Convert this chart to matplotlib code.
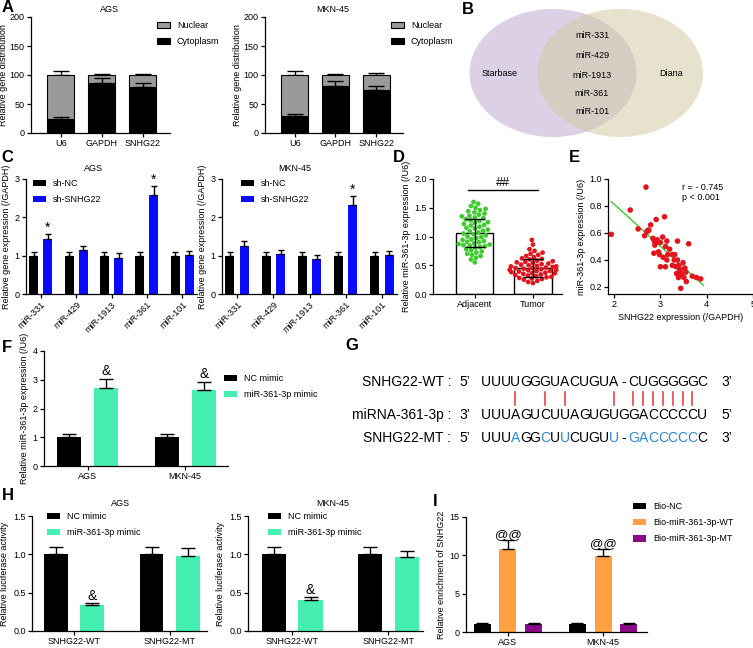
import numpy as np
import pandas as pd
import matplotlib
matplotlib.use("Agg")
import matplotlib.pyplot as plt
import seaborn as sns
from matplotlib.patches import Patch, Ellipse
from matplotlib.lines import Line2D

plt.rcParams['font.family'] = ['Liberation Sans', 'DejaVu Sans']
FS = 6.5
plt.rcParams['font.size'] = FS

# ---------------- data ----------------
a_cats = ['U6', 'GAPDH', 'SNHG22']
a_ags_cyto = [25, 87, 79]
a_ags_cyto_err = [3, 8, 8]
a_ags_total = [100, 100, 100]
a_ags_total_err = [7, 2, 2]
a_mkn_cyto = [29, 81, 74]
a_mkn_cyto_err = [3, 8, 7]
a_mkn_total = [100, 100, 100]
a_mkn_total_err = [7, 2, 3]

venn_left = 'Starbase'
venn_right = 'Diana'
venn_common = ['miR-331', 'miR-429', 'miR-1913', 'miR-361', 'miR-101']

c_cats = ['miR-331', 'miR-429', 'miR-1913', 'miR-361', 'miR-101']
c_ags_nc = [1.0, 1.0, 1.0, 1.0, 1.0]
c_ags_nc_err = [0.1, 0.1, 0.1, 0.1, 0.1]
c_ags_sh = [1.43, 1.15, 0.95, 2.58, 1.03]
c_ags_sh_err = [0.14, 0.11, 0.11, 0.25, 0.10]
c_mkn_nc = [1.0, 1.0, 1.0, 1.0, 1.0]
c_mkn_nc_err = [0.1, 0.1, 0.1, 0.1, 0.1]
c_mkn_sh = [1.26, 1.05, 0.92, 2.31, 1.02]
c_mkn_sh_err = [0.12, 0.10, 0.10, 0.24, 0.10]
c_ags_star = [0, 3]
c_mkn_star = [3]

d_groups = ['Adjacent', 'Tumor']
d_means = [1.06, 0.45]
d_sd = [0.25, 0.155]
d_adjacent = [1.60, 1.57, 1.53, 1.50, 1.48, 1.46, 1.44, 1.42, 1.40, 1.38, 1.36, 1.35,
              1.33, 1.32, 1.30, 1.28, 1.27, 1.25, 1.24, 1.22, 1.20, 1.19, 1.17, 1.15,
              1.14, 1.12, 1.10, 1.09, 1.07, 1.05, 1.04, 1.02, 1.00, 0.99, 0.97, 0.95,
              0.94, 0.92, 0.91, 0.90, 0.88, 0.87, 0.86, 0.85, 0.84, 0.83, 0.82, 0.80,
              0.78, 0.76, 0.74, 0.72, 0.70, 0.68, 0.66, 0.63, 0.60, 0.55]
d_tumor = [0.94, 0.86, 0.78, 0.75, 0.72, 0.70, 0.68, 0.66, 0.64, 0.62, 0.61, 0.60,
           0.58, 0.57, 0.56, 0.55, 0.54, 0.53, 0.52, 0.51, 0.50, 0.49, 0.48, 0.48,
           0.47, 0.46, 0.45, 0.45, 0.44, 0.43, 0.42, 0.42, 0.41, 0.40, 0.40, 0.39,
           0.38, 0.37, 0.36, 0.36, 0.35, 0.34, 0.33, 0.32, 0.31, 0.30, 0.29, 0.28,
           0.27, 0.26, 0.25, 0.23, 0.21, 0.19]

e_x = [2.69, 1.94, 2.35, 2.52, 2.71, 2.79, 2.73, 2.66, 2.91, 3.09, 2.84, 2.87,
       2.91, 2.88, 3.05, 3.14, 3.11, 3.00, 3.37, 3.61, 2.86, 2.96, 2.98, 3.06,
       3.16, 3.26, 3.31, 3.00, 3.11, 3.14, 3.30, 3.26, 3.34, 3.39, 3.37, 3.49,
       3.43, 3.53, 3.55, 3.46, 3.39, 3.51, 3.35, 3.69, 3.78, 3.87, 3.56, 3.44,
       2.75, 2.93, 3.20, 3.42]
e_y = [0.94, 0.59, 0.77, 0.63, 0.61, 0.66, 0.62, 0.58, 0.70, 0.72, 0.56, 0.54,
       0.53, 0.51, 0.57, 0.54, 0.50, 0.53, 0.54, 0.52, 0.45, 0.46, 0.44, 0.42,
       0.44, 0.44, 0.44, 0.35, 0.35, 0.40, 0.40, 0.36, 0.35, 0.36, 0.40, 0.38,
       0.32, 0.34, 0.31, 0.29, 0.27, 0.27, 0.30, 0.28, 0.27, 0.26, 0.24, 0.19,
       0.62, 0.55, 0.48, 0.33]
e_r_text = 'r = - 0.745'
e_p_text = 'p < 0.001'

f_cats = ['AGS', 'MKN-45']
f_nc = [1.0, 1.0]
f_nc_err = [0.1, 0.1]
f_mimic = [2.73, 2.64]
f_mimic_err = [0.30, 0.28]

g_wt = "UUUUGGGUACUGUA-CUGGGGGC"
g_mirna = "UUUAGUCUUAGUGUGGACCCCCU"
g_mt = "UUUAGGCUUCUGUU-GACCCCCC"
g_pairs = [3, 6, 8, 13, 15, 16, 17, 18, 19, 20, 21]
g_mt_mut = [3, 6, 8, 13, 15, 16, 17, 18, 19, 20, 21]

h_cats = ['SNHG22-WT', 'SNHG22-MT']
h_ags_nc = [1.0, 1.0]
h_ags_nc_err = [0.1, 0.1]
h_ags_mimic = [0.34, 0.98]
h_ags_mimic_err = [0.03, 0.10]
h_mkn_nc = [1.0, 1.0]
h_mkn_nc_err = [0.1, 0.1]
h_mkn_mimic = [0.41, 0.96]
h_mkn_mimic_err = [0.04, 0.09]

i_cats = ['AGS', 'MKN-45']
i_bionc = [1.0, 1.0]
i_bionc_err = [0.12, 0.12]
i_wt = [10.85, 9.85]
i_wt_err = [1.1, 1.0]
i_mt = [1.1, 1.05]
i_mt_err = [0.12, 0.10]

# ---------------- helpers ----------------
W, H = 753, 648
fig = plt.figure(figsize=(W / 100, H / 100), dpi=100)

def px_axes(x0, y0, x1, y1):
    return fig.add_axes([x0 / W, 1 - y1 / H, (x1 - x0) / W, (y1 - y0) / H])

def ftext(x, y, s, **kw):
    kw.setdefault('ha', 'center')
    kw.setdefault('va', 'center')
    return fig.text(x / W, 1 - y / H, s, **kw)

def style(ax):
    for s in ['top', 'right']:
        ax.spines[s].set_visible(False)
    for s in ['left', 'bottom']:
        ax.spines[s].set_linewidth(0.9)
    ax.tick_params(direction='out', length=3, width=0.9, labelsize=FS, pad=1.5)

def up_err(ax, x, top, err, cap, z=3):
    x = np.asarray(x, float)
    top = np.asarray(top, float)
    err = np.asarray(err, float)
    ax.errorbar(x, top, yerr=[np.zeros_like(err), err], fmt='none', ecolor='black',
                elinewidth=1.0, capsize=cap, capthick=1.0, zorder=z)

def legend_at(ax, handles, labels, x, y, spacing=0.8):
    ax.legend(handles, labels, loc='upper left', bbox_to_anchor=(x / W, 1 - y / H),
              bbox_transform=fig.transFigure, frameon=False, fontsize=FS,
              handlelength=1.4, handleheight=0.75, handletextpad=0.8,
              labelspacing=spacing, borderpad=0, borderaxespad=0)

def letter(x, y, s):
    ftext(x, y, s, fontsize=12, fontweight='bold')

# ---------------- Panel A ----------------
def panel_a(box, cyto, cyto_err, total, total_err, title, tx, legx):
    ax = px_axes(*box)
    style(ax)
    x = np.arange(len(a_cats))
    nuc = np.asarray(total) - np.asarray(cyto)
    b1 = ax.bar(x, cyto, width=0.66, color='black', edgecolor='black', linewidth=0.8, zorder=2)
    b2 = ax.bar(x, nuc, bottom=cyto, width=0.66, color='#9a9a9a', edgecolor='black',
                linewidth=0.8, zorder=2)
    up_err(ax, x, total, total_err, 6, z=1)
    up_err(ax, x, cyto, cyto_err, 6, z=3)
    ax.set_xlim(-0.73, 2.66)
    ax.set_ylim(0, 200)
    ax.set_yticks([0, 50, 100, 150, 200])
    ax.set_xticks(x)
    ax.set_xticklabels(a_cats)
    ax.set_ylabel('Relative gene distribution', fontsize=FS, labelpad=1)
    ftext(tx, 9, title, fontsize=FS)
    legend_at(ax, [b2, b1], ['Nuclear', 'Cytoplasm'], legx, 21)

panel_a((31, 17, 170, 133), a_ags_cyto, a_ags_cyto_err, a_ags_total, a_ags_total_err,
        'AGS', 109, 157)
panel_a((265, 17, 403, 133), a_mkn_cyto, a_mkn_cyto_err, a_mkn_total, a_mkn_total_err,
        'MKN-45', 333, 391)
letter(8, 8, 'A')

# ---------------- Panel B (Venn) ----------------
bax = px_axes(440, 0, 740, 145)
bax.set_xlim(440, 740)
bax.set_ylim(145, 0)
bax.axis('off')
e_left = Ellipse((553, 73), 167, 128, facecolor='#dbd0e5', edgecolor='none', zorder=1)
e_right = Ellipse((620, 73), 166, 128, facecolor='#e6e2cd', edgecolor='none', zorder=1)
bax.add_patch(e_left)
bax.add_patch(e_right)
e_mid = Ellipse((620, 73), 166, 128, facecolor='#d6cdc2', edgecolor='none', zorder=2)
bax.add_patch(e_mid)
e_mid.set_clip_path(e_left)
bax.text(500, 73, venn_left, ha='center', va='center', fontsize=FS, zorder=3)
bax.text(671, 73, venn_right, ha='center', va='center', fontsize=FS, zorder=3)
for lab, yy in zip(venn_common, [35, 56, 76, 93, 111]):
    bax.text(592, yy, lab, ha='center', va='center', fontsize=FS, zorder=3)
letter(468, 10, 'B')

# ---------------- Panel C ----------------
def panel_c(box, nc, nc_err, sh, sh_err, stars, title, tx, legx):
    ax = px_axes(*box)
    style(ax)
    x = np.arange(len(c_cats))
    off = 0.2
    w = 0.25
    b1 = ax.bar(x - off, nc, width=w, color='black', zorder=2)
    b2 = ax.bar(x + off, sh, width=w, color='#0a0aff', zorder=2)
    up_err(ax, x - off, nc, nc_err, 2.5)
    up_err(ax, x + off, sh, sh_err, 2.5)
    for i in stars:
        ax.text(x[i] + off, sh[i] + sh_err[i] - 0.02, '*', ha='center', va='bottom',
                fontsize=10)
    ax.set_xlim(-0.42, 4.42)
    ax.set_ylim(0, 3)
    ax.set_yticks([0, 1, 2, 3])
    ax.set_xticks(x)
    ax.set_xticklabels(c_cats, rotation=45, ha='right', rotation_mode='anchor')
    ax.set_ylabel('Relative gene expression (/GAPDH)', fontsize=FS, labelpad=3)
    ftext(tx, 169, title, fontsize=FS)
    legend_at(ax, [b1, b2], ['sh-NC', 'sh-SNHG22'], legx, 179)

panel_c((26, 179, 197, 294), c_ags_nc, c_ags_nc_err, c_ags_sh, c_ags_sh_err, c_ags_star,
        'AGS', 93, 33)
panel_c((222, 179, 397, 294), c_mkn_nc, c_mkn_nc_err, c_mkn_sh, c_mkn_sh_err, c_mkn_star,
        'MKN-45', 295, 241)
letter(7, 158, 'C')

# ---------------- Panel D ----------------
dax = px_axes(433, 179, 562, 294)
style(dax)
dax.bar([0, 1], d_means, width=0.64, facecolor='white', edgecolor='black', linewidth=1.0,
        zorder=1)
df = pd.DataFrame({'g': ['Adjacent'] * len(d_adjacent) + ['Tumor'] * len(d_tumor),
                   'v': d_adjacent + d_tumor})
sns.swarmplot(data=df, x='g', y='v', hue='g', order=d_groups,
              palette={'Adjacent': '#3ccc2e', 'Tumor': '#e3141c'}, size=3.4,
              legend=False, ax=dax, zorder=3)
dax.errorbar([0, 1], d_means, yerr=d_sd, fmt='none', ecolor='black', elinewidth=1.0,
             capsize=7, capthick=1.0, zorder=4)
dax.plot([-0.12, 1.09], [1.81, 1.81], color='black', lw=1.0)
dax.text(0.485, 1.83, '##', ha='center', va='bottom', fontsize=9)
dax.set_xlim(-0.72, 1.5)
dax.set_ylim(0, 2.0)
dax.set_yticks([0, 0.5, 1.0, 1.5, 2.0])
dax.set_yticklabels(['0.0', '0.5', '1.0', '1.5', '2.0'])
dax.set_xticks([0, 1])
dax.set_xticklabels(d_groups)
dax.set_xlabel('')
dax.set_ylabel('Relative miR-361-3p expression (/U6)', fontsize=FS, labelpad=2)
letter(399, 158, 'D')

# ---------------- Panel E ----------------
eax = px_axes(608, 179, 753, 294)
style(eax)
eax.scatter(e_x, e_y, s=16, color='#e3141c', edgecolors='none', zorder=3)
k, b = np.polyfit(e_x, e_y, 1)
xx = np.array([min(e_x), 3.93])
eax.plot(xx, k * xx + b, color='#3ccc2e', lw=1.0, zorder=2)
eax.set_xlim(1.87, 5.0)
eax.set_ylim(0.148, 1.0)
eax.set_yticks([0.2, 0.4, 0.6, 0.8, 1.0])
eax.set_xticks([2, 3, 4, 5])
eax.set_xlabel('SNHG22 expression (/GAPDH)', fontsize=FS, labelpad=3)
eax.set_ylabel('miR-361-3p expression (/U6)', fontsize=FS, labelpad=2)
ftext(682, 187, e_r_text, ha='left', fontsize=FS)
ftext(682, 198, e_p_text, ha='left', fontsize=FS)
letter(574, 158, 'E')

# ---------------- Panel F ----------------
fax = px_axes(44, 351, 228, 466)
style(fax)
x = np.arange(len(f_cats))
GREEN = '#45efb0'
fb1 = fax.bar(x - 0.19, f_nc, width=0.245, color='black', zorder=2)
fb2 = fax.bar(x + 0.19, f_mimic, width=0.245, color=GREEN, zorder=2)
up_err(fax, x - 0.19, f_nc, f_nc_err, 5)
up_err(fax, x + 0.19, f_mimic, f_mimic_err, 5)
for i in range(len(f_cats)):
    fax.text(x[i] + 0.19, f_mimic[i] + f_mimic_err[i] + 0.02, '&', ha='center',
             va='bottom', fontsize=10)
fax.set_xlim(-0.45, 1.44)
fax.set_ylim(0, 4)
fax.set_yticks([0, 1, 2, 3, 4])
fax.set_xticks(x)
fax.set_xticklabels(f_cats)
fax.set_ylabel('Relative miR-361-3p expression (/U6)', fontsize=FS, labelpad=3)
legend_at(fax, [fb1, fb2], ['NC mimic', 'miR-361-3p mimic'], 224, 374)
letter(7, 347, 'F')

# ---------------- Panel G ----------------
gax = px_axes(340, 330, 753, 460)
gax.set_xlim(340, 753)
gax.set_ylim(460, 330)
gax.axis('off')
GFS = 10
pitch = 9.83
x0 = 481
rows = [(382, 'SNHG22-WT :', "5\u2019", g_wt, "3\u2019", []),
        (415, 'miRNA-361-3p :', "3\u2019", g_mirna, "5\u2019", []),
        (438, 'SNHG22-MT :', "5\u2019", g_mt, "3\u2019", g_mt_mut)]
for yy, lab, e1, seq, e2, blue in rows:
    gax.text(451, yy, lab, ha='right', va='center', fontsize=GFS)
    gax.text(465, yy, e1, ha='center', va='center', fontsize=GFS)
    gax.text(727, yy, e2, ha='center', va='center', fontsize=GFS)
    for i, ch in enumerate(seq):
        gax.text(x0 + (i + 0.5) * pitch, yy, ch, ha='center', va='center', fontsize=GFS,
                 color='#2a86d6' if i in blue else 'black')
for i in g_pairs:
    xp = x0 + (i + 0.5) * pitch
    gax.plot([xp, xp], [392, 405], color='#e8323c', lw=1.1)
letter(352, 345, 'G')

# ---------------- Panel H ----------------
def panel_h(box, nc, nc_err, mim, mim_err, title, tx, legx, xlim):
    ax = px_axes(*box)
    style(ax)
    x = np.arange(len(h_cats))
    b1 = ax.bar(x - 0.19, nc, width=0.25, color='black', zorder=2)
    b2 = ax.bar(x + 0.19, mim, width=0.25, color=GREEN, zorder=2)
    up_err(ax, x - 0.19, nc, nc_err, 5)
    up_err(ax, x + 0.19, mim, mim_err, 5)
    ax.text(x[0] + 0.19, mim[0] + mim_err[0] - 0.005, '&', ha='center', va='bottom',
            fontsize=10)
    ax.set_xlim(*xlim)
    ax.set_ylim(0, 1.5)
    ax.set_yticks([0, 0.5, 1.0, 1.5])
    ax.set_yticklabels(['0.0', '0.5', '1.0', '1.5'])
    ax.set_xticks(x)
    ax.set_xticklabels(h_cats)
    ax.set_ylabel('Relative luciferase activity', fontsize=FS, labelpad=3)
    ftext(tx, 503, title, fontsize=FS)
    legend_at(ax, [b1, b2], ['NC mimic', 'miR-361-3p mimic'], legx, 512)

panel_h((32, 516, 207, 631), h_ags_nc, h_ags_nc_err, h_ags_mimic, h_ags_mimic_err,
        'AGS', 120, 47, (-0.44, 1.39))
panel_h((248, 516, 423, 631), h_mkn_nc, h_mkn_nc_err, h_mkn_mimic, h_mkn_mimic_err,
        'MKN-45', 333, 268, (-0.46, 1.36))
letter(8, 496, 'H')

# ---------------- Panel I ----------------
iax = px_axes(466, 517, 647, 632)
style(iax)
x = np.arange(len(i_cats))
o, w = 0.27, 0.18
ib1 = iax.bar(x - o, i_bionc, width=w, color='black', zorder=2)
ib2 = iax.bar(x, i_wt, width=w, color='#ffa143', zorder=2)
ib3 = iax.bar(x + o, i_mt, width=w, color='#8a0a8a', zorder=2)
up_err(iax, x - o, i_bionc, i_bionc_err, 4)
up_err(iax, x, i_wt, i_wt_err, 4)
up_err(iax, x + o, i_mt, i_mt_err, 4)
for i in range(len(i_cats)):
    iax.text(x[i], i_wt[i] + i_wt_err[i] - 0.1, '@@', ha='center', va='bottom', fontsize=9.5)
iax.set_xlim(-0.44, 1.46)
iax.set_ylim(0, 15)
iax.set_yticks([0, 5, 10, 15])
iax.set_xticks(x)
iax.set_xticklabels(i_cats)
iax.set_ylabel('Relative enrichment of SNHG22', fontsize=FS, labelpad=3)
legend_at(iax, [ib1, ib2, ib3], ['Bio-NC', 'Bio-miR-361-3p-WT', 'Bio-miR-361-3p-MT'],
          633, 502)
letter(435, 502, 'I')

fig.savefig('out.png', dpi=100)
